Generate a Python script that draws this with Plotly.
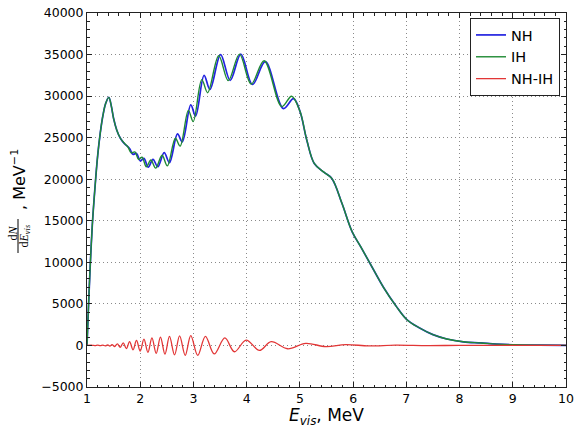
import plotly.graph_objects as go

# ---- data ----
nh_x = [1.00, 1.03, 1.06, 1.10, 1.15, 1.20, 1.25, 1.30, 1.35, 1.41, 1.46, 1.50, 1.56, 1.63,
        1.70, 1.80, 1.86, 1.93, 2.00, 2.07, 2.15, 2.24, 2.33, 2.45, 2.55, 2.70, 2.79, 2.95,
        3.04, 3.20, 3.31, 3.51, 3.69, 3.89, 4.11, 4.35, 4.69, 4.88, 5.00, 5.13, 5.27, 5.45,
        5.60, 5.79, 5.98, 6.15, 6.35, 6.57, 6.80, 7.01, 7.25, 7.50, 7.76, 8.07, 8.40, 8.70,
        9.00, 9.50, 10.00]
nh_y = [0, 5000, 9500, 14500, 19000, 22800, 25600, 27700, 29100, 29850, 28700, 27300, 25900, 24900,
        24300, 23700, 23000, 23100, 22200, 22500, 21450, 22400, 21500, 23200, 22000, 25450, 24500, 28950,
        27600, 32500, 30800, 35000, 31900, 35050, 31400, 34150, 28500, 29700, 28200, 24700, 21900, 20850,
        20100, 17100, 13700, 11800, 9500, 7000, 4800, 3100, 2100, 1300, 780, 440, 300, 160,
        80, 30, 10]

ih_x = [1.00, 1.03, 1.06, 1.10, 1.15, 1.20, 1.25, 1.30, 1.35, 1.41, 1.46, 1.50, 1.56, 1.63,
        1.70, 1.77, 1.83, 1.90, 1.97, 2.035, 2.115, 2.20, 2.29, 2.41, 2.51, 2.66, 2.75, 2.905,
        2.995, 3.157, 3.267, 3.475, 3.655, 3.865, 4.085, 4.328, 4.66, 4.844, 5.00, 5.13, 5.27, 5.45,
        5.60, 5.79, 5.98, 6.15, 6.35, 6.57, 6.80, 7.01, 7.25, 7.50, 7.76, 8.07, 8.40, 8.70,
        9.00, 9.50, 10.00]
ih_y = [0, 5000, 9500, 14500, 19000, 22800, 25600, 27700, 29100, 29850, 28700, 27300, 25900, 24900,
        24350, 23880, 23180, 23280, 22380, 22640, 21490, 22320, 21340, 22880, 21600, 24930, 23980, 28280,
        26930, 31980, 30410, 34860, 31860, 35050, 31450, 34260, 28740, 29990, 28200, 24700, 21900, 20850,
        20100, 17100, 13700, 11800, 9500, 7000, 4800, 3100, 2100, 1300, 780, 440, 300, 160,
        80, 30, 10]

diff_x = [1.00, 1.10, 1.15, 1.20, 1.25, 1.30, 1.345, 1.39, 1.43, 1.47, 1.52, 1.57, 1.625, 1.68,
          1.74, 1.80, 1.865, 1.93, 2.00, 2.07, 2.145, 2.22, 2.30, 2.38, 2.465, 2.55, 2.645, 2.74,
          2.845, 2.95, 3.08, 3.225, 3.39, 3.59, 3.77, 3.99, 4.24, 4.46, 4.77, 5.11, 5.49, 5.86,
          6.30, 6.80, 7.40, 8.00, 9.00, 10.00]
diff_y = [0, 20, -20, 30, -30, 40, -50, 70, -80, 100, -130, 180, -220, 300,
          -380, 450, -520, 600, -680, 750, -830, 900, -960, 1000, -1050, 1080, -1130, 1150,
          -1190, 1180, -1200, 1100, -1020, 900, -760, 650, -600, 450, -400, 250, -150, 100,
          -60, 40, -20, 10, 0, 0]

x_ticks = [1, 2, 3, 4, 5, 6, 7, 8, 9, 10]
y_ticks = [-5000, 0, 5000, 10000, 15000, 20000, 25000, 30000, 35000, 40000]

# ---- figure ----
L, R, T, B = 87, 9, 13, 41
W, H = 575, 428
pw, ph = W - L - R, H - T - B

def px2x(px):
    return (px - L) / pw

def py2y(py):
    return (H - B - py) / ph

fig = go.Figure()
fig.add_trace(go.Scatter(x=nh_x, y=nh_y, mode='lines', name='NH',
                         line=dict(color='#2323e0', width=1.7, shape='spline', smoothing=1.0)))
fig.add_trace(go.Scatter(x=ih_x, y=ih_y, mode='lines', name='IH',
                         line=dict(color='#1f8a34', width=1.4, shape='spline', smoothing=1.0)))
fig.add_trace(go.Scatter(x=diff_x, y=diff_y, mode='lines', name='NH-IH',
                         line=dict(color='#e23636', width=1.3, shape='spline', smoothing=1.0)))

axis_common = dict(
    showline=True, linecolor='#222222', linewidth=1, mirror='allticks',
    ticks='inside', ticklen=5, tickwidth=1, tickcolor='#222222',
    showgrid=True, gridcolor='#8a8a8a', griddash='1px,3px', gridwidth=1,
    zeroline=False, tickfont=dict(family='DejaVu Sans', size=12.5, color='black'),
)

fig.update_xaxes(range=[1, 10], tickvals=x_ticks, ticktext=[str(v) for v in x_ticks],
                 minor=dict(dtick=0.2, tick0=1, ticks='inside', ticklen=2.5, tickcolor='#222222',
                            showgrid=False),
                 title=dict(text='<i>E</i><sub><i>vis</i></sub>, MeV',
                            font=dict(family='DejaVu Sans', size=17, color='black'), standoff=4),
                 automargin=False, **axis_common)
fig.update_yaxes(range=[-5000, 40000], tickvals=y_ticks,
                 ticktext=[('\u2212' + str(-v)) if v < 0 else str(v) for v in y_ticks],
                 minor=dict(dtick=1000, tick0=0, ticks='inside', ticklen=2.5, tickcolor='#222222',
                            showgrid=False),
                 automargin=False, **axis_common)

# y-axis label built as a rotated fraction
fig.add_annotation(text='d<i>N</i>', x=px2x(12.5), y=py2y(233), xref='paper', yref='paper',
                   xanchor='center', yanchor='middle',
                   showarrow=False, textangle=-90,
                   font=dict(family='Liberation Serif', size=12, color='black'))
fig.add_annotation(text='d<i>E</i><sub><i>vis</i></sub>', x=px2x(24.5), y=py2y(236), xref='paper', yref='paper',
                   xanchor='center', yanchor='middle',
                   showarrow=False, textangle=-90,
                   font=dict(family='Liberation Serif', size=12, color='black'))
fig.add_shape(type='line', xref='paper', yref='paper',
              x0=px2x(18), x1=px2x(18), y0=py2y(253), y1=py2y(219),
              line=dict(color='black', width=1))
fig.add_annotation(text=', MeV<sup>\u22121</sup>', x=px2x(18), y=py2y(180), xref='paper', yref='paper',
                   xanchor='center', yanchor='middle',
                   showarrow=False, textangle=-90,
                   font=dict(family='DejaVu Sans', size=16, color='black'))

fig.update_layout(
    width=W, height=H,
    margin=dict(l=L, r=R, t=T, b=B),
    plot_bgcolor='white', paper_bgcolor='white',
    font=dict(family='DejaVu Sans', size=12, color='black'),
    legend=dict(x=px2x(560), y=py2y(18), xanchor='right', yanchor='top',
                bordercolor='#222222', borderwidth=1, bgcolor='white',
                font=dict(family='DejaVu Sans', size=14.5, color='black'),
                itemwidth=30, tracegroupgap=0),
    showlegend=True,
)

fig.write_html('out.html', config={'displayModeBar': False},
               post_script="document.body.style.margin='0';document.body.style.overflow='hidden';")
